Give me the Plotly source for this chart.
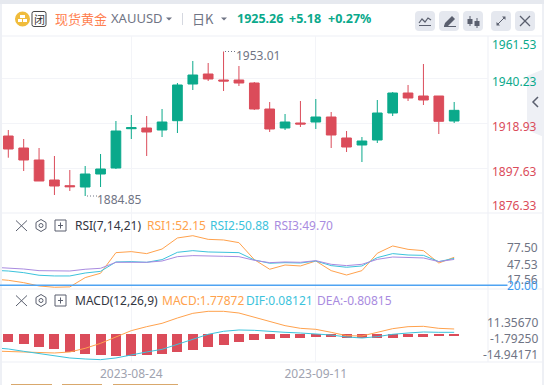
import plotly.graph_objects as go

# ---------- data ----------
dates = ["2023-08-11","2023-08-14","2023-08-15","2023-08-16","2023-08-17","2023-08-18","2023-08-21",
         "2023-08-22","2023-08-23","2023-08-24","2023-08-25","2023-08-28","2023-08-29","2023-08-30",
         "2023-08-31","2023-09-01","2023-09-04","2023-09-05","2023-09-06","2023-09-07","2023-09-08",
         "2023-09-11","2023-09-12","2023-09-13","2023-09-14","2023-09-15","2023-09-18","2023-09-19",
         "2023-09-20","2023-09-21","2023-09-22"]
opens = [1913.15,1907.49,1901.83,1892.39,1889.71,1889.09,1895.22,1898.05,1916.59,1916.92,1915.98,1920.37,
         1937.68,1942.39,1939.56,1939.56,1938.15,1925.88,1916.92,1919.28,1919.75,1922.11,1912.21,1908.90,
         1911.26,1924.00,1933.43,1932.02,1932.02,1920.22]
highs = [1915.98,1911.73,1907.49,1903.71,1897.11,1899.00,1904.66,1920.22,1923.05,1922.58,1925.88,1938.15,
         1948.53,1947.58,1953.01,1946.17,1938.62,1929.19,1923.53,1929.66,1930.60,1924.47,1915.51,1912.68,
         1930.13,1933.90,1937.21,1947.11,1932.02,1929.19]
lows = [1902.91,1896.64,1891.92,1885.32,1887.21,1884.85,1889.09,1897.58,1911.73,1903.71,1912.68,1914.56,
        1934.85,1939.09,1934.38,1936.73,1925.41,1915.04,1915.98,1917.39,1916.45,1907.49,1905.60,1900.88,
        1909.85,1922.58,1929.66,1927.77,1914.09,1919.28]
closes = [1907.02,1901.83,1891.92,1889.56,1889.23,1895.22,1897.58,1915.51,1917.06,1915.04,1919.75,1937.21,
          1941.92,1940.04,1939.09,1938.15,1925.88,1916.45,1919.75,1918.81,1922.11,1913.62,1907.96,1910.79,
          1924.00,1933.43,1931.07,1930.13,1920.08,1925.26]
rsi1 = [27.2,25.7,23.0,19.2,17.7,18.1,28.8,33.8,57.5,58.7,56.4,61.7,74.4,77.0,72.8,72.1,69.0,49.5,38.4,
        43.3,42.2,47.9,36.8,31.8,36.8,56.8,65.2,61.3,59.8,45.6,52.15]
rsi2 = [37.2,36.4,34.5,31.5,30.7,30.7,34.1,36.0,46.8,47.2,46.4,49.5,57.9,59.8,58.3,57.9,57.5,49.1,45.3,
        46.0,45.6,47.9,42.6,40.7,42.2,51.8,56.4,54.8,54.4,47.2,50.88]
rsi3 = [40.7,39.9,38.7,36.8,36.4,36.4,38.4,39.5,46.4,46.8,46.4,47.9,52.9,54.1,53.3,53.3,52.9,48.7,46.0,
        46.8,46.4,48.3,44.1,42.6,44.1,49.8,52.5,52.1,51.4,47.2,49.70]
macd_line = [-11.13,-11.35,-11.57,-12.24,-12.46,-11.79,-9.35,-6.02,-1.57,2.43,5.09,7.32,10.87,13.98,15.32,
             15.32,14.2,11.54,8.65,5.76,3.98,3.32,1.32,-0.9,-1.13,1.09,3.76,5.09,5.32,3.98,3.54]
dif_line = [-8.9,-9.79,-11.35,-12.9,-14.46,-15.79,-16.46,-16.9,-15.79,-13.57,-11.79,-10.02,-6.68,-2.9,0,2,
            2.87,2.65,1.76,1.32,0.87,0.43,-0.46,-1.79,-2.46,-1.57,0,0.87,1.54,1.32,1.32]
dea_bars = [-5.11,-6.22,-8.44,-9.78,-11.78,-13.11,-13.78,-14.67,-14.44,-13.78,-13.11,-11.78,-10.44,-8.44,
            -7.11,-5.11,-3.78,-3.11,-2.22,-2.22,-1.78,-1.78,-2.44,-2.44,-2.22,-2.22,-1.78,-1.78,-1.11,-0.81]
price_ticks = [1961.53,1940.23,1918.93,1897.63,1876.33]
date_ticks = ["2023-08-24","2023-09-11"]

# ---------- style ----------
W, H = 544, 385
GREEN, RED = "#0AA98B", "#DB4C5A"
ORANGE, CYAN, PURPLE = "#FFA24D", "#3CC3DC", "#A98BE0"
GRID = "#F3F4F8"
GREY = "#6F7484"
FONT = "Noto Sans, Noto Sans CJK SC, sans-serif"

def fx(p): return p / W
def fy(p): return 1 - p / H
def dom(top, bottom): return [fy(bottom), fy(top)]

anns, shapes = [], []

def text(px, py, s, color=GREY, size=12, anchor="left", bold=False, fam=FONT):
    anns.append(dict(x=fx(px), y=fy(py), xref="paper", yref="paper", text=f"<b>{s}</b>" if bold else s,
                     showarrow=False, xanchor=anchor, yanchor="middle", borderpad=0, borderwidth=0,
                     font=dict(size=size, color=color, family=fam)))

def path(points, color=None, fill=None, width=1, closed=False, layer="above"):
    d = "M" + " L".join(f"{fx(a):.5f},{fy(b):.5f}" for a, b in points) + (" Z" if closed else "")
    shapes.append(dict(type="path", path=d, xref="paper", yref="paper", layer=layer,
                       line=dict(color=color or "rgba(0,0,0,0)", width=width if color else 0),
                       fillcolor=fill or "rgba(0,0,0,0)"))

def rect(x0, y0, x1, y1, fill=None, color=None, width=1, layer="above", rad=0):
    if rad:
        r = rad
        X0, X1, Y0, Y1 = fx(x0), fx(x1), fy(y0), fy(y1)
        rx, ry = r / W, r / H
        d = (f"M{X0+rx:.5f},{Y0:.5f} L{X1-rx:.5f},{Y0:.5f} Q{X1:.5f},{Y0:.5f} {X1:.5f},{Y0-ry:.5f} "
             f"L{X1:.5f},{Y1+ry:.5f} Q{X1:.5f},{Y1:.5f} {X1-rx:.5f},{Y1:.5f} L{X0+rx:.5f},{Y1:.5f} "
             f"Q{X0:.5f},{Y1:.5f} {X0:.5f},{Y1+ry:.5f} L{X0:.5f},{Y0-ry:.5f} Q{X0:.5f},{Y0:.5f} {X0+rx:.5f},{Y0:.5f} Z")
        shapes.append(dict(type="path", path=d, xref="paper", yref="paper", layer=layer,
                           line=dict(color=color or "rgba(0,0,0,0)", width=width if color else 0),
                           fillcolor=fill or "rgba(0,0,0,0)"))
    else:
        shapes.append(dict(type="rect", x0=fx(x0), x1=fx(x1), y0=fy(y0), y1=fy(y1), xref="paper", yref="paper",
                           layer=layer, line=dict(color=color or "rgba(0,0,0,0)", width=width if color else 0),
                           fillcolor=fill or "rgba(0,0,0,0)"))

# ---------- traces ----------
fig = go.Figure()
fig.add_trace(go.Candlestick(x=dates[1:], open=opens, high=highs, low=lows, close=closes, xaxis="x", yaxis="y",
                             increasing=dict(line=dict(color=GREEN, width=1), fillcolor=GREEN),
                             decreasing=dict(line=dict(color=RED, width=1), fillcolor=RED),
                             whiskerwidth=0, showlegend=False))
for vals, col in ((rsi1, ORANGE), (rsi2, CYAN), (rsi3, PURPLE)):
    fig.add_trace(go.Scatter(x=dates, y=vals, mode="lines", line=dict(color=col, width=1), xaxis="x2", yaxis="y2",
                             showlegend=False))
fig.add_trace(go.Bar(x=dates[1:], y=dea_bars, marker=dict(color=RED, line=dict(width=0)), width=0.65, xaxis="x3",
                     yaxis="y3", showlegend=False))
for vals, col in ((macd_line, ORANGE), (dif_line, CYAN)):
    fig.add_trace(go.Scatter(x=dates, y=vals, mode="lines", line=dict(color=col, width=1), xaxis="x3", yaxis="y3",
                             showlegend=False))

# ---------- chrome ----------
rect(0, 0, 544, 4, fill="#E6E9EF", layer="below")
rect(0, 4, 2, 385, fill="#EEF0F5", layer="below")
rect(542, 4, 544, 385, fill="#EEF0F5", layer="below")
for x0, x1 in ((11, 52), (62, 102), (113, 178)):
    rect(x0, 384, x1, 385, fill="#D9A86C")

# header icons
shapes.append(dict(type="circle", xref="paper", yref="paper", x0=fx(15), x1=fx(30), y0=fy(26.5), y1=fy(11.5),
                   fillcolor="#F0BC3C", line=dict(width=0)))
rect(20, 15, 25, 18, fill="white")
rect(18, 19, 22, 22, fill="white")
rect(23, 19, 27, 22, fill="white")
rect(32, 11.5, 46, 26.5, color="#444", width=1, rad=2)
text(39, 19, "闭", color="#333", size=11, anchor="center", fam="Noto Sans CJK SC")
text(55, 18.5, "现货黄金", color="#FF7F50", size=13, fam="Noto Sans CJK SC")
text(111, 18.5, "XAUUSD", color=GREY, size=13)
path([(166, 17.5), (172, 17.5), (169, 20.5)], fill=GREY, closed=True)
rect(182, 13, 183, 25, fill="#D5D8E0")
text(192, 18.5, "日K", color=GREY, size=13, fam="Noto Sans CJK SC")
path([(221, 17.5), (227, 17.5), (224, 20.5)], fill=GREY, closed=True)
text(237, 18.5, "1925.26", color=GREEN, size=12.5, bold=True)
text(289, 18.5, "+5.18", color=GREEN, size=12.5, bold=True)
text(328, 18.5, "+0.27%", color=GREEN, size=12.5, bold=True)

# toolbar
for x0 in (415, 439, 463, 491, 515):
    rect(x0, 11, x0 + 20, 31, fill="#E5E8EF", rad=4)
IC = "#5A5F6E"
path([(419, 23), (422, 19), (425, 22), (428, 18), (431, 20)], color=IC, width=1.2)
rect(419, 25, 431, 26, fill=IC)
path([(444, 26), (445, 23), (452, 16), (455, 19), (448, 26)], fill=IC, closed=True)
rect(444, 26, 456, 27, fill=IC)
for cx, a, b in ((470, 16, 26), (477, 18, 28)):
    rect(cx - 0.5, a, cx + 0.5, b, fill=IC)
    rect(cx - 2.5, a + 3, cx + 2.5, b - 2, fill=IC)
path([(497, 25), (505, 17)], color=IC, width=1)
path([(502, 16.5), (505.5, 16.5), (505.5, 20)], fill=IC, closed=True)
path([(496.5, 22), (496.5, 25.5), (500, 25.5)], fill=IC, closed=True)
path([(520, 16), (530, 26)], color=IC, width=1.2)
path([(530, 16), (520, 26)], color=IC, width=1.2)

# side tab
path([(544, 69), (527, 76), (527, 130), (544, 137)], fill="#EEF0F5", closed=True, layer="below")
path([(538, 97), (533, 102), (538, 107)], color=IC, width=1.5)

# price labels
for yy, v, c in zip((44, 82, 126, 171.5, 205.5), price_ticks, (GREEN, GREEN, RED, RED, RED)):
    text(537, yy, f"{v:.2f}", color=c, anchor="right")

# high / low markers
for d, v, sx, sy in (("2023-09-01", 1953.01, 11, 3.5), ("2023-08-21", 1884.85, 11, 3)):
    anns.append(dict(x=d, y=v, xref="x", yref="y", text=f"{v:.2f}", showarrow=False, xanchor="left", yanchor="middle",
                     xshift=sx, yshift=-sy, borderpad=0, font=dict(size=12, color=GREY, family=FONT)))
shapes.append(dict(type="line", xref="paper", yref="paper", x0=fx(225), x1=fx(235), y0=fy(51.5), y1=fy(51.5),
                   line=dict(color=GREY, width=1, dash="1px,2px")))
shapes.append(dict(type="line", xref="paper", yref="paper", x0=fx(87), x1=fx(97), y0=fy(196), y1=fy(196),
                   line=dict(color=GREY, width=1, dash="1px,2px")))

# indicator rows
for yy in (225.5, 300.5):
    path([(16, yy - 5), (27, yy + 5.5)], color=IC, width=1)
    path([(27, yy - 5), (16, yy + 5.5)], color=IC, width=1)
    path([(41, yy - 6), (46, yy - 3), (46, yy + 3), (41, yy + 6), (36, yy + 3), (36, yy - 3)], color=IC, width=1, closed=True)
    shapes.append(dict(type="circle", xref="paper", yref="paper", x0=fx(39), x1=fx(43), y0=fy(yy + 2), y1=fy(yy - 2),
                       line=dict(color=IC, width=1)))
    rect(55, yy - 5.5, 66, yy + 5.5, color=IC)
    rect(58, yy - 0.5, 63, yy + 0.5, fill=IC)
    rect(60, yy - 3, 61, yy + 3, fill=IC)
DARK = "#33353F"
text(75, 225.5, "RSI(7,14,21)", color=DARK)
text(147, 225.5, "RSI1:52.15", color=ORANGE)
text(210, 225.5, "RSI2:50.88", color=CYAN)
text(274, 225.5, "RSI3:49.70", color=PURPLE)
text(75, 300.5, "MACD(12,26,9)", color=DARK)
text(162, 300.5, "MACD:1.77872", color=ORANGE)
text(246, 300.5, "DIF:0.08121", color=CYAN)
text(317, 300.5, "DEA:-0.80815", color=PURPLE)

# axis labels of the two indicator panes
text(538, 247.5, "77.50", anchor="right")
text(538, 264, "47.53", anchor="right")
text(538, 279, "17.56", anchor="right")
text(538, 285, "20.00", color="#3D9BF0", anchor="right")
shapes.append(dict(type="line", xref="paper", yref="y2", x0=0, x1=fx(507.5), y0=20, y1=20,
                   line=dict(color="#4FA3F2", width=1.5)))
text(538, 322.5, "11.35670", anchor="right")
text(538, 338.5, "-1.79250", anchor="right")
text(538, 354, "-14.94171", anchor="right")

# frame
for yy in (36, 213, 289, 362):
    rect(2, yy - 0.5, 542, yy + 0.5, fill="#EEF0F5", layer="below")
rect(487.5, 36, 488.5, 362, fill="#EEF0F5", layer="below")

# ---------- axes ----------
RANGE = [0.59, 32.2]
def xax(**kw):
    base = dict(domain=[fx(2), fx(488)], type="category", categoryorder="array", categoryarray=dates, range=RANGE,
                tickmode="array", tickvals=date_ticks, ticktext=[""] * 2, showgrid=True, gridcolor=GRID, gridwidth=1,
                zeroline=False, showline=False, ticks="", rangeslider=dict(visible=False), fixedrange=True)
    base.update(kw)
    return base
def yax(**kw):
    base = dict(side="right", showticklabels=False, ticks="", zeroline=False, showline=False, showgrid=False,
                fixedrange=True)
    base.update(kw)
    return base

fig.update_layout(
    width=W, height=H, margin=dict(l=0, r=0, t=0, b=0), paper_bgcolor="white", plot_bgcolor="rgba(0,0,0,0)",
    showlegend=False, bargap=0, boxgap=0.1, font=dict(family=FONT), annotations=anns, shapes=shapes,
    xaxis=xax(anchor="y"),
    xaxis2=xax(anchor="y2", matches="x"),
    xaxis3=xax(anchor="y3", matches="x", ticktext=date_ticks, ticklabelstandoff=3,
               tickfont=dict(size=12, color="#A0A3B0", family=FONT)),
    yaxis=yax(domain=dom(36, 213), anchor="x", range=[1876.83, 1960.32], showgrid=True, gridcolor=GRID, tickmode="array",
              tickvals=price_ticks),
    yaxis2=yax(domain=dom(213, 289), anchor="x2", range=[15.7, 103.1]),
    yaxis3=yax(domain=dom(289, 362), anchor="x3", range=[-18.47, 30.2]),
)
fig.write_html("out.html", config=dict(displayModeBar=False),
               post_script="document.body.style.margin='0';document.body.style.overflow='hidden';")
